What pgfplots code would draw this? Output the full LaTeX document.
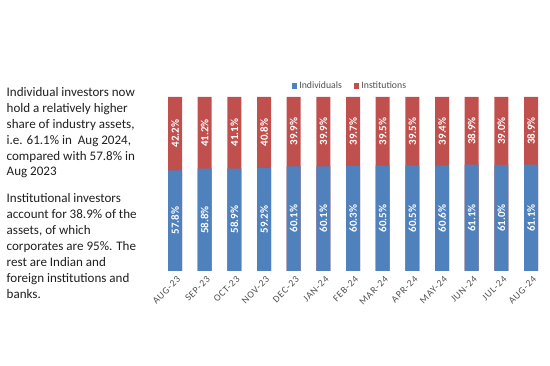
\documentclass[border=0pt]{standalone}
\usepackage{pgfplots}
\pgfplotsset{compat=1.18}
\usepackage{pgfplotstable}
\usepackage{fontspec}
\setmainfont{Carlito}
\newfontfamily\tickfont[LetterSpace=8]{Carlito}
\definecolor{indblue}{HTML}{4F81BD}
\definecolor{instred}{HTML}{C0504D}
\definecolor{ticktext}{HTML}{505050}
\pgfplotstableread{
x ind inst
0 57.8 42.2
1 58.8 41.2
2 58.9 41.1
3 59.2 40.8
4 60.1 39.9
5 60.1 39.9
6 60.3 39.7
7 60.5 39.5
8 60.5 39.5
9 60.6 39.4
10 61.1 38.9
11 61.0 39.0
12 61.1 38.9
}\datatable
\pgfplotstablecreatecol[expr={\thisrow{ind}+\thisrow{inst}}]{top}{\datatable}
\pgfplotstablecreatecol[expr={\thisrow{ind}/2}]{indmid}{\datatable}
\pgfplotstablecreatecol[expr={\thisrow{ind}+\thisrow{inst}/2}]{instmid}{\datatable}
\begin{document}
\begin{tikzpicture}
\useasboundingbox (0bp,0bp) rectangle (550bp,366bp);
\node[anchor=north west, align=left, inner sep=0pt, text=black!88,
  font=\fontsize{13.1}{16}\selectfont] at (6.5bp,279bp) {%
Individual investors now\\
hold a relatively higher\\
share of industry assets,\\
i.e. 61.1\% in~ Aug 2024,\\
compared with 57.8\% in\\
Aug 2023\\[10.5bp]
Institutional investors\\
account for 38.9\% of the\\
assets, of which\\
corporates are 95\%. The\\
rest are Indian and\\
foreign institutions and\\
banks.};
\begin{axis}[
  at={(160.2bp,95bp)}, anchor=south west,
  scale only axis, width=385.7bp, height=174bp,
  xmin=-0.5, xmax=12.5, ymin=0, ymax=100,
  axis line style={draw=none},
  ytick=\empty,
  xtick={0,...,12},
  xticklabels={AUG-23,SEP-23,OCT-23,NOV-23,DEC-23,JAN-24,FEB-24,MAR-24,APR-24,MAY-24,JUN-24,JUL-24,AUG-24},
  major tick length=0pt,
  x tick label style={rotate=45, anchor=north east, font=\tickfont\fontsize{9.8}{10}\selectfont, text=ticktext, xshift=-1bp, yshift=-3bp, inner sep=1bp},
  /pgf/number format/assume math mode=true,
  legend columns=2,
  legend style={draw=none, fill=none, at={(0.492,1.063)}, anchor=center, font=\fontsize{9.8}{10}\selectfont, text=ticktext, /tikz/every even column/.append style={column sep=10bp}},
  legend image code/.code={\fill[#1] (0bp,-2.7bp) rectangle (5.5bp,2.7bp);},
  every node near coord/.append style={rotate=90, anchor=center, text=white, font=\bfseries\fontsize{11}{12}\selectfont},
]
\addlegendimage{fill=indblue, draw=none}
\addlegendentry{Individuals}
\addlegendimage{fill=instred, draw=none}
\addlegendentry{Institutions}
\addplot[ybar, bar width=14bp, bar shift=0pt, fill=instred, draw=none, forget plot] table[x=x, y=top] {\datatable};
\addplot[ybar, bar width=14bp, bar shift=0pt, fill=indblue, draw=none, forget plot] table[x=x, y=ind] {\datatable};
\addplot[draw=none, mark=none, forget plot, point meta=explicit,
  nodes near coords={\pgfmathprintnumber[fixed,fixed zerofill,precision=1]{\pgfplotspointmeta}\%}]
  table[x=x, y=indmid, meta=ind] {\datatable};
\addplot[draw=none, mark=none, forget plot, point meta=explicit,
  nodes near coords={\pgfmathprintnumber[fixed,fixed zerofill,precision=1]{\pgfplotspointmeta}\%}]
  table[x=x, y=instmid, meta=inst] {\datatable};
\end{axis}
\end{tikzpicture}
\end{document}
